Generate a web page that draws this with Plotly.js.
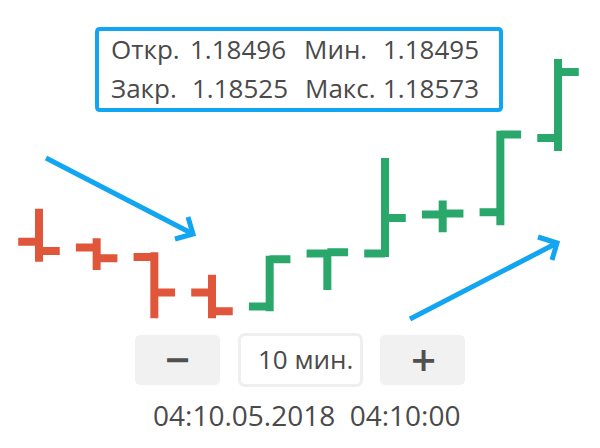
<!DOCTYPE html>
<html>
<head>
<meta charset="utf-8">
<script src="https://cdn.plot.ly/plotly-3.0.1.min.js"></script>
<style>html,body{margin:0;padding:0;background:#fff}#chart{width:600px;height:448px}</style>
</head>
<body>
<div id="chart"></div>
<script>
// ---- data (10-minute EUR/USD bars) ----
const barIndex = [0, 1, 2, 3, 4, 5, 6, 7, 8, 9];
const opens  = [1.18418, 1.18413, 1.18405, 1.18375, 1.18363, 1.18408, 1.18408, 1.18441, 1.18443, 1.18506];
const highs  = [1.18446, 1.18421, 1.18409, 1.18390, 1.18406, 1.18411, 1.18489, 1.18453, 1.18512, 1.18573];
const lows   = [1.18401, 1.18394, 1.18353, 1.18353, 1.18359, 1.18377, 1.18405, 1.18426, 1.18432, 1.18495];
const closes = [1.18410, 1.18404, 1.18375, 1.18359, 1.18403, 1.18409, 1.18438, 1.18442, 1.18509, 1.18562];

const infoLabels1 = ['Откр.', '1.18496', 'Мин.', '1.18495'];
const infoLabels2 = ['Закр.', '1.18525', 'Макс.', '1.18573'];
const intervalLabel = '10 мин.';
const dateLabel = '04:10.05.2018  04:10:00';

// ---- layout helpers (pixel -> paper) ----
const W = 600, H = 448;
const px = x => x / W;
const py = y => 1 - y / H;
function P(x, y) { return px(x).toFixed(5) + ',' + py(y).toFixed(5); }
function roundRect(x0, y0, x1, y1, r) {
  return 'M' + P(x0 + r, y0) + ' L' + P(x1 - r, y0) + ' Q' + P(x1, y0) + ' ' + P(x1, y0 + r) +
    ' L' + P(x1, y1 - r) + ' Q' + P(x1, y1) + ' ' + P(x1 - r, y1) +
    ' L' + P(x0 + r, y1) + ' Q' + P(x0, y1) + ' ' + P(x0, y1 - r) +
    ' L' + P(x0, y0 + r) + ' Q' + P(x0, y0) + ' ' + P(x0 + r, y0) + ' Z';
}

const textColor = '#4a4a4a';
const blue = '#12a5f2';
const font = 'Open Sans, sans-serif';

const trace = {
  type: 'ohlc',
  x: barIndex, open: opens, high: highs, low: lows, close: closes,
  tickwidth: 0.36,
  increasing: { line: { color: '#2aa86c', width: 8 } },
  decreasing: { line: { color: '#e0563a', width: 8 } },
  hoverinfo: 'none'
};

const annotations = [];
const col1 = [109, 188, 302, 381];
const col2 = [109, 190, 303, 381];
infoLabels1.forEach((t, i) => annotations.push({
  xref: 'paper', yref: 'paper', x: px(col1[i]), y: py(49), xanchor: 'left', yanchor: 'middle',
  text: t, showarrow: false, font: { family: font, size: 26, color: textColor }
}));
infoLabels2.forEach((t, i) => annotations.push({
  xref: 'paper', yref: 'paper', x: px(col2[i]), y: py(88), xanchor: 'left', yanchor: 'middle',
  text: t, showarrow: false, font: { family: font, size: 26, color: textColor }
}));
annotations.push({
  xref: 'paper', yref: 'paper', x: px(305), y: py(359), xanchor: 'center', yanchor: 'middle',
  text: intervalLabel, showarrow: false, font: { family: font, size: 26, color: textColor }
});
annotations.push({
  xref: 'paper', yref: 'paper', x: px(177.5), y: py(359), xanchor: 'center', yanchor: 'middle',
  text: '−', showarrow: false, font: { family: font, size: 44, weight: 600, color: '#505050' }
});
annotations.push({
  xref: 'paper', yref: 'paper', x: px(423), y: py(359), xanchor: 'center', yanchor: 'middle',
  text: '+', showarrow: false, font: { family: font, size: 44, weight: 600, color: '#505050' }
});
annotations.push({
  xref: 'paper', yref: 'paper', x: px(306.5), y: py(414.5), xanchor: 'center', yanchor: 'middle',
  text: dateLabel, showarrow: false, font: { family: font, size: 28, color: textColor }
});

const shapes = [
  { type: 'path', xref: 'paper', yref: 'paper', path: roundRect(97, 29, 501, 110, 3),
    line: { color: blue, width: 4 }, fillcolor: 'rgba(0,0,0,0)' },
  { type: 'path', xref: 'paper', yref: 'paper', path: roundRect(135, 335, 220, 385, 6),
    line: { width: 0 }, fillcolor: '#f1f1f1' },
  { type: 'path', xref: 'paper', yref: 'paper', path: roundRect(239.5, 334.5, 361.5, 385.5, 6),
    line: { color: '#efefef', width: 3 }, fillcolor: '#ffffff' },
  { type: 'path', xref: 'paper', yref: 'paper', path: roundRect(380, 335, 465, 385, 6),
    line: { width: 0 }, fillcolor: '#f1f1f1' },
  { type: 'path', xref: 'paper', yref: 'paper',
    path: 'M' + P(46, 158) + ' L' + P(193, 234) + ' M' + P(188, 217) + ' L' + P(193, 234) + ' L' + P(175, 239),
    line: { color: blue, width: 5 } },
  { type: 'path', xref: 'paper', yref: 'paper',
    path: 'M' + P(410, 319) + ' L' + P(557, 243) + ' M' + P(538, 237) + ' L' + P(557, 243) + ' L' + P(552, 260),
    line: { color: blue, width: 5 } }
];

const layout = {
  width: W, height: H,
  margin: { l: 0, r: 0, t: 0, b: 0, pad: 0 },
  paper_bgcolor: '#ffffff', plot_bgcolor: '#ffffff',
  showlegend: false,
  xaxis: { range: [-0.676, 9.728], visible: false, rangeslider: { visible: false }, fixedrange: true },
  yaxis: { range: [1.18243, 1.18623], visible: false, fixedrange: true },
  shapes: shapes,
  annotations: annotations
};

Plotly.newPlot('chart', [trace], layout, { staticPlot: true, displayModeBar: false });
</script>
</body>
</html>
